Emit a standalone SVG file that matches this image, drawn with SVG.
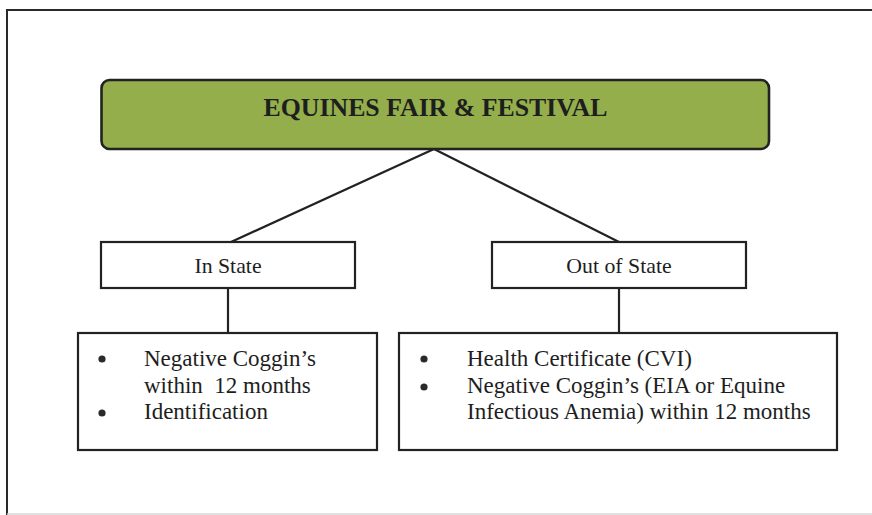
<svg xmlns="http://www.w3.org/2000/svg" width="872" height="515" viewBox="0 0 872 515">
<style>
.frame{fill:none;stroke:#2a2a2a;stroke-width:2}
.box{fill:#ffffff;stroke:#222;stroke-width:2.2}
.title{fill:#93ae4a;stroke:#222;stroke-width:2.6}
.conn{fill:none;stroke:#222;stroke-width:2.2}
text{font-family:"Liberation Serif","Times New Roman",serif;fill:#1e1e1e}
.t{font-size:25.8px;font-weight:bold}
.lbl{font-size:21.8px}
.body{font-size:23px}
.dot{fill:#2a2a2a}
</style>
<rect width="872" height="515" fill="#ffffff"/>
<path class="frame" d="M872 10 H7 V515"/>
<line x1="7" y1="514" x2="872" y2="514" stroke="#d6d6d6" stroke-width="1.5"/>
<g id="connectors">
<line class="conn" x1="434" y1="149" x2="231" y2="242"/>
<line class="conn" x1="434" y1="149" x2="619" y2="242"/>
<line class="conn" x1="228" y1="288" x2="228" y2="333"/>
<line class="conn" x1="619" y1="288" x2="619" y2="333"/>
</g>
<g id="equines">
<rect class="title" x="101.5" y="80" width="667.5" height="69" rx="8" ry="8"/>
<text class="t" x="435.5" y="116" text-anchor="middle">EQUINES FAIR &amp; FESTIVAL</text>
</g>
<g id="in-state">
<rect class="box" x="101" y="242" width="254" height="46"/>
<text class="lbl" x="228" y="273" text-anchor="middle">In State</text>
</g>
<g id="out-of-state">
<rect class="box" x="492" y="242" width="254" height="46"/>
<text class="lbl" x="619" y="273" text-anchor="middle">Out of State</text>
</g>
<g id="in-state-req">
<rect class="box" x="78" y="333" width="299" height="117"/>
<circle class="dot" cx="102" cy="359" r="3.6"/>
<circle class="dot" cx="102" cy="413" r="3.6"/>
<text class="body" x="144" y="366">Negative Coggin’s</text>
<text class="body" x="144" y="392.5" xml:space="preserve" style="white-space:pre">within  12 months</text>
<text class="body" x="144" y="419">Identification</text>
</g>
<g id="out-state-req">
<rect class="box" x="399" y="333" width="438" height="117"/>
<circle class="dot" cx="424" cy="359" r="3.6"/>
<circle class="dot" cx="424" cy="387" r="3.6"/>
<text class="body" x="467" y="366">Health Certificate (CVI)</text>
<text class="body" x="467" y="392.5">Negative Coggin’s (EIA or Equine</text>
<text class="body" x="467" y="419">Infectious Anemia) within 12 months</text>
</g>
</svg>
